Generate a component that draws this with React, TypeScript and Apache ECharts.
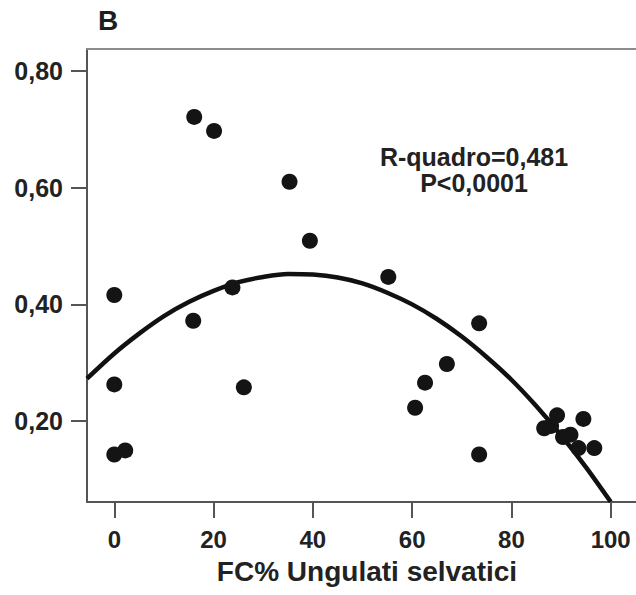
import React, { useEffect, useRef } from "react";
import * as echarts from "echarts";

// Observed points: FC% of wild ungulates (x) vs index (y)
const pointX = [0, 2.2, 0, 0, 15.9, 16.1, 20.1, 23.8, 26.1, 35.3, 39.4, 55.2, 60.6, 62.6, 67, 73.5, 73.5, 86.6, 88, 89.2, 90.4, 91.9, 93.5, 94.5, 96.7];
const pointY = [0.143, 0.15, 0.263, 0.416, 0.372, 0.721, 0.697, 0.429, 0.258, 0.61, 0.509, 0.447, 0.223, 0.266, 0.298, 0.3675, 0.143, 0.188, 0.192, 0.21, 0.173, 0.177, 0.154, 0.204, 0.154];

// Quadratic fit curve
const curveX = [-5.5, 0, 5, 10, 15, 20, 25, 30, 35, 40, 45, 50, 55, 60, 65, 70, 75, 80, 85, 90, 95, 100];
const curveY = [0.273, 0.316, 0.35, 0.38, 0.404, 0.423, 0.438, 0.447, 0.452, 0.451, 0.446, 0.436, 0.42, 0.4, 0.375, 0.345, 0.31, 0.271, 0.226, 0.176, 0.1215, 0.062];

const xTicks = [0, 20, 40, 60, 80, 100];
const yTicks = [0.2, 0.4, 0.6, 0.8];

const panelLabel = "B";
const xTitle = "FC% Ungulati selvatici";
const statText = "R-quadro=0,481\nP<0,0001";

const FONT = "'Liberation Sans', Arial, Helvetica, sans-serif";
const TEXT = "#222";

export default function App() {
  const ref = useRef<HTMLDivElement>(null);
  useEffect(() => {
    if (!ref.current) return;
    const chart = echarts.init(ref.current, undefined, { renderer: "svg" });
    const option: any = {
      animation: false,
      backgroundColor: "#ffffff",
      grid: { left: 87, right: 0, top: 49, bottom: 93, containLabel: false },
      xAxis: [
        {
          type: "value",
          min: -5.5,
          max: 105.1,
          position: "bottom",
          splitLine: { show: false },
          axisLine: { show: true, onZero: false, lineStyle: { color: "#555", width: 2 } },
          axisTick: { show: true, length: 16, inside: false, customValues: xTicks, lineStyle: { color: "#555", width: 2 } },
          axisLabel: {
            customValues: xTicks,
            margin: 25,
            fontSize: 24,
            fontWeight: "bold",
            color: TEXT,
            fontFamily: FONT,
            formatter: (v: number) => String(Math.round(v)),
          },
          name: xTitle,
          nameLocation: "middle",
          nameGap: 55,
          nameTextStyle: { fontSize: 28, fontWeight: "bold", color: TEXT, fontFamily: FONT, padding: [0, 0, 0, 11] },
        },
        {
          type: "value",
          min: -5.5,
          max: 105.1,
          position: "top",
          splitLine: { show: false },
          axisLine: { show: true, onZero: false, lineStyle: { color: "#8c8c8c", width: 2 } },
          axisTick: { show: false },
          axisLabel: { show: false },
        },
      ],
      yAxis: {
        type: "value",
        min: 0.0617,
        max: 0.8372,
        splitLine: { show: false },
        axisLine: { show: true, onZero: false, lineStyle: { color: "#555", width: 2 } },
        axisTick: { show: true, length: 16, customValues: yTicks, lineStyle: { color: "#555", width: 2 } },
        axisLabel: {
          customValues: yTicks,
          margin: 24,
          fontSize: 25,
          fontWeight: "bold",
          color: TEXT,
          fontFamily: FONT,
          formatter: (v: number) => v.toFixed(2).replace(".", ","),
        },
      },
      series: [
        {
          type: "line",
          xAxisIndex: 0,
          data: curveX.map((x, i) => [x, curveY[i]]),
          smooth: 0.3,
          showSymbol: false,
          symbol: "none",
          lineStyle: { color: "#111", width: 4.5 },
          clip: true,
          z: 2,
        },
        {
          type: "scatter",
          xAxisIndex: 0,
          data: pointX.map((x, i) => [x, pointY[i]]),
          symbol: "circle",
          symbolSize: 16,
          itemStyle: { color: "#141414", opacity: 1 },
          z: 3,
        },
      ],
      graphic: [
        {
          type: "text",
          left: 98,
          top: 6,
          style: { text: panelLabel, fontSize: 28, fontWeight: "bold", fill: "#1e1e1e", fontFamily: FONT },
        },
        {
          type: "text",
          x: 474,
          y: 170,
          style: {
            text: statText,
            fontSize: 25,
            lineHeight: 26,
            fontWeight: "bold",
            fill: TEXT,
            fontFamily: FONT,
            align: "center",
            verticalAlign: "middle",
          },
        },
      ],
    };
    chart.setOption(option);
    return () => chart.dispose();
  }, []);
  return (
    <div
      ref={ref}
      style={{ position: "fixed", left: 0, top: 0, width: 636, height: 595, background: "#fff" }}
    />
  );
}
